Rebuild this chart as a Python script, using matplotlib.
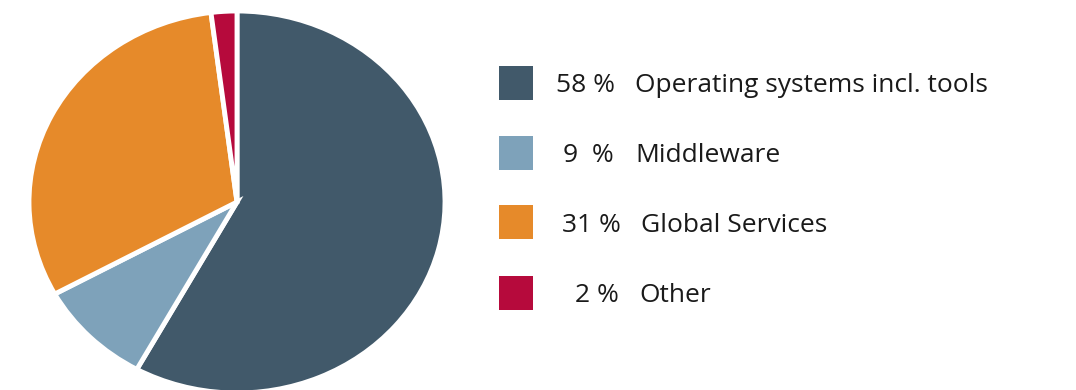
import matplotlib
matplotlib.use("Agg")
import matplotlib.pyplot as plt
from matplotlib.patches import Rectangle

categories = ["Operating systems incl. tools", "Middleware", "Global Services", "Other"]
values = [58, 9, 31, 2]
pct_labels = ["58 %", "9  %", "31 %", "2 %"]
colors = ["#41596a", "#7ea2ba", "#e68a2a", "#b60a3c"]

W, H = 1076, 390
fig = plt.figure(figsize=(W / 100, H / 100), dpi=100)

# pie axes (slightly wider than tall, as in the reference)
cx, cy, rx, ry = 237, 202, 208, 191
pax = fig.add_axes([(cx - rx) / W, (H - cy - ry) / H, 2 * rx / W, 2 * ry / H])
pax.pie(values, colors=colors, startangle=90, counterclock=False, radius=1,
        wedgeprops=dict(edgecolor="white", linewidth=3.5))
pax.set_aspect("auto")
pax.set_xlim(-1, 1)
pax.set_ylim(-1, 1)
pax.axis("off")

ax = fig.add_axes([0, 0, 1, 1])
ax.set_xlim(0, W)
ax.set_ylim(0, H)
ax.axis("off")
ax.patch.set_alpha(0)

row_y = [83, 153, 222, 293]
pct_x = [556, 563, 562, 575]
lab_x = [635, 635, 641, 639]
font = ["Open Sans", "DejaVu Sans"]
for i in range(len(values)):
    y = H - row_y[i]
    ax.add_patch(Rectangle((499, y - 17), 34, 34, facecolor=colors[i], edgecolor="none"))
    ax.text(pct_x[i], y, pct_labels[i], fontsize=19, family=font, color="#1a1a1a",
            va="center_baseline", ha="left")
    ax.text(lab_x[i], y, categories[i], fontsize=19, family=font, color="#1a1a1a",
            va="center_baseline", ha="left")

fig.savefig("out.png", dpi=100, facecolor="white")
